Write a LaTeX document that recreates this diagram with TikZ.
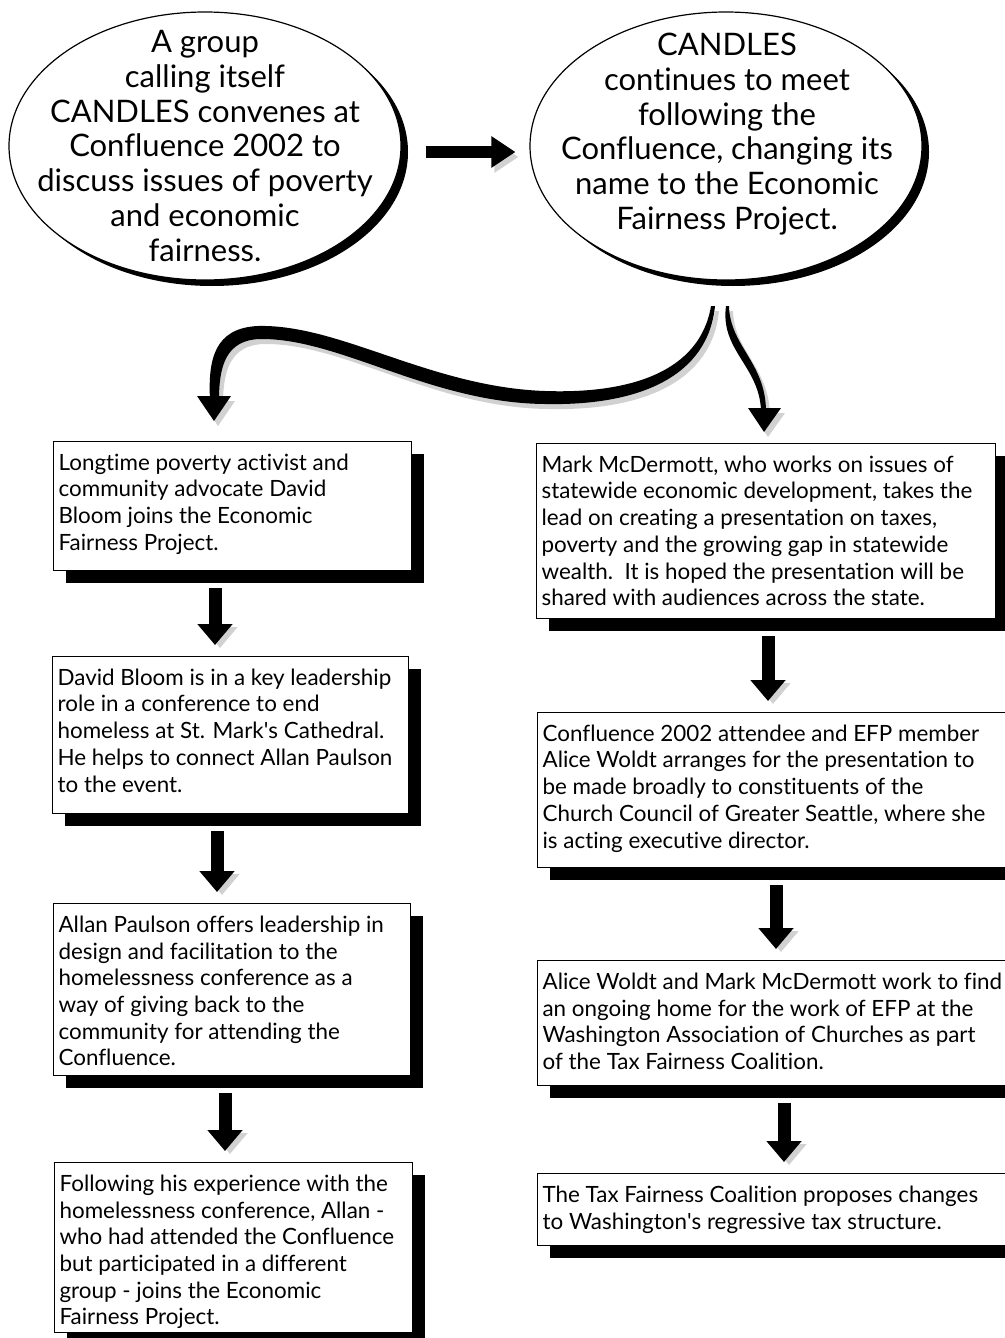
\documentclass[tikz,border=0pt]{standalone}
\usepackage{fontspec}
\setmainfont{Lato}[Ligatures={NoCommon}]
\usetikzlibrary{shapes.geometric,shadows,arrows.meta}

% box text: height, width, lines
\newcommand\stepcontent[3]{\parbox[c][#1][t]{#2}{\raggedright\strut #3}}

\tikzset{
  stepbox/.style={draw, line width=1.2pt, fill=white, anchor=north west,
    inner xsep=5pt, inner ysep=10pt,
    drop shadow={shadow xshift=12pt, shadow yshift=-12pt, opacity=1, fill=black},
    font=\fontsize{22.4}{26.7}\selectfont},
  bubble/.style={ellipse, draw, line width=1.2pt, fill=white,
    minimum width=392pt, minimum height=268pt, inner sep=0pt,
    drop shadow={shadow xshift=7pt, shadow yshift=-6pt, opacity=1, fill=black}},
  bubbletext/.style={align=center, font=\fontsize{31}{34.7}\selectfont},
  downarrow/.style={line width=13pt, -{Triangle[length=21pt, width=34pt]},
    shorten <=17pt, shorten >=11pt,
    preaction={draw=black!18, transform canvas={xshift=5pt, yshift=-3pt}}},
  rightarrow/.style={line width=12pt, -{Triangle[length=24pt, width=30pt]},
    shorten <=24pt, shorten >=14pt,
    preaction={draw=black!18, transform canvas={xshift=3pt, yshift=-5pt}}},
  swoosh/.style={fill=black,
    preaction={fill=black!18, transform canvas={xshift=4pt, yshift=-5pt}}},
}

\begin{document}
\begin{tikzpicture}[x=1pt, y=-1pt]
\useasboundingbox (0,0) rectangle (1004,1338);

% the two ovals
\node[bubble] (candles) at (205,146) {};
\node[bubbletext] (candlestext) at (205,146) {A group\\ calling itself\\ CANDLES convenes at\\ Confluence 2002 to\\ discuss issues of poverty\\ and economic\\ fairness.};
\node[bubble] (efp) at (726,146) {};
\node[bubbletext] (efptext) at (727,134) {CANDLES\\ continues to meet\\ following the\\ Confluence, changing its\\ name to the Economic\\ Fairness Project.};

\draw[rightarrow] ([yshift=-6pt]candles.east) -- ([yshift=-6pt]efp.west);

% left column
\node[stepbox] (l1) at (53,441) {\stepcontent{109pt}{348pt}{Longtime poverty activist and\\ community advocate David\\ Bloom joins the Economic\\ Fairness Project.}};
\node[stepbox] (l2) at (52,656) {\stepcontent{137pt}{346pt}{David Bloom is in a key leadership\\ role in a conference to end\\ homeless at St. Mark\textquotesingle s Cathedral.\\ He helps to connect Allan Paulson\\ to the event.}};
\node[stepbox] (l3) at (53,903) {\stepcontent{152pt}{347pt}{Allan Paulson offers leadership in\\ design and facilitation to the\\ homelessness conference as a\\ way of giving back to the\\ community for attending the\\ Confluence.}};
\node[stepbox] (l4) at (54,1162) {\stepcontent{150pt}{348pt}{Following his experience with the\\ homelessness conference, Allan -\\ who had attended the Confluence\\ but participated in a different\\ group - joins the Economic\\ Fairness Project.}};

% right column (the lower three run past the page edge)
\node[stepbox] (r1) at (536,443) {\stepcontent{155pt}{449pt}{Mark McDermott, who works on issues of\\ statewide economic development, takes the\\ lead on creating a presentation on taxes,\\ poverty and the growing gap in statewide\\ wealth.\ \ It is hoped the presentation will be\\ shared with audiences across the state.}};
\node[stepbox] (r2) at (537,712) {\stepcontent{135pt}{510pt}{Confluence 2002 attendee and EFP member\\ Alice Woldt arranges for the presentation to\\ be made broadly to constituents of the\\ Church Council of Greater Seattle, where she\\ is acting executive director.}};
\node[stepbox] (r3) at (537,960) {\stepcontent{105pt}{510pt}{Alice Woldt and Mark McDermott work to find\\ an ongoing home for the work of EFP at the\\ Washington Association of Churches as part\\ of the Tax Fairness Coalition.}};
\node[stepbox] (r4) at (537,1173) {\stepcontent{52pt}{510pt}{The Tax Fairness Coalition proposes changes\\ to Washington\textquotesingle s regressive tax structure.}};

% swooshes out of the second oval
\fill[swoosh] (711,306) .. controls (700,372) and (630,394) .. (545,391)
  .. controls (430,387) and (340,324) .. (258,326)
  .. controls (214,328) and (208,360) .. (210,400) -- (219,400)
  .. controls (219,366) and (226,340) .. (260,339)
  .. controls (340,338) and (430,403) .. (545,404)
  .. controls (640,406) and (708,376) .. (715,306) -- cycle;
\fill[swoosh] (197,396) -- (231,396) -- (214,421) -- cycle;
\fill[swoosh] (726,306) .. controls (720,350) and (759,366) .. (761,410) -- (766,410)
  .. controls (765,362) and (730,346) .. (729,306) -- cycle;
\fill[swoosh] (748,408) -- (781,408) -- (764,432) -- cycle;

% arrows between the steps
\draw[downarrow] (215,0 |- l1.south) -- (215,0 |- l2.north);
\draw[downarrow] (217,0 |- l2.south) -- (217,0 |- l3.north);
\draw[downarrow] (225,0 |- l3.south) -- (225,0 |- l4.north);
\draw[downarrow] (768,0 |- r1.south) -- (768,0 |- r2.north);
\draw[downarrow] (776,0 |- r2.south) -- (776,0 |- r3.north);
\draw[downarrow] (784,0 |- r3.south) -- (784,0 |- r4.north);
\end{tikzpicture}
\end{document}
